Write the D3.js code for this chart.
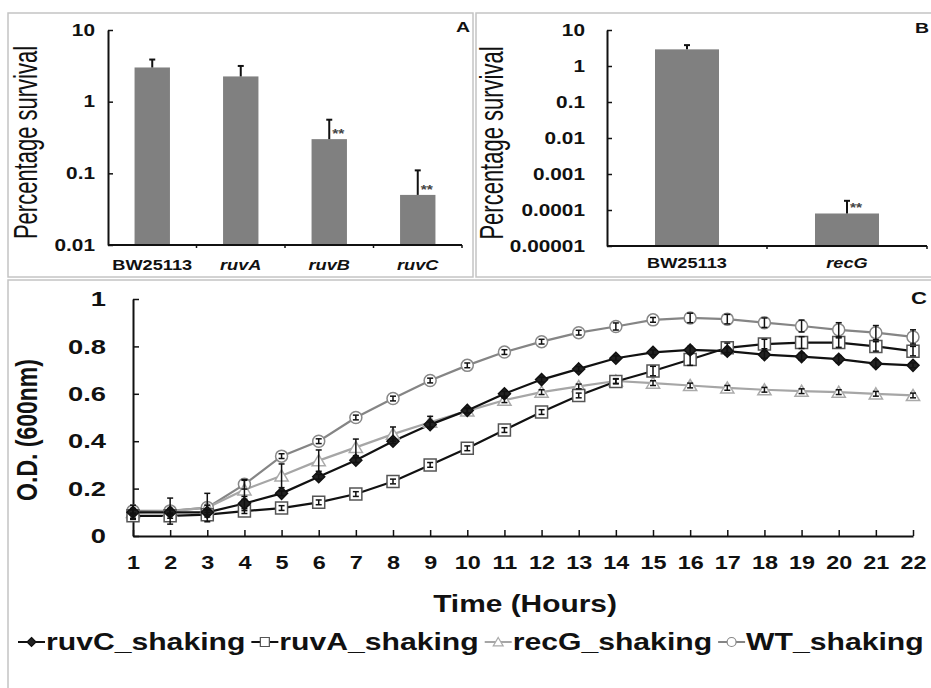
<!DOCTYPE html>
<html>
<head>
<meta charset="utf-8">
<script src="https://cdn.jsdelivr.net/npm/d3@7"></script>
<style>
  body { margin: 0; background: #fff; }
  svg { display: block; font-family: "Liberation Sans", Arial, sans-serif; }
</style>
</head>
<body>
<script>
// panel A: survival of ruv mutants (log scale)
let catsA = ["BW25113", "ruvA", "ruvB", "ruvC"];
let survA = [3.0, 2.25, 0.30, 0.05];
let errA = [0.87, 0.9, 0.26, 0.06];
let sigA = ["", "", "**", "**"];
let ticksA = [0.01, 0.1, 1, 10];
let tickLabelsA = ["0.01", "0.1", "1", "10"];

// panel B: survival of recG
let catsB = ["BW25113", "recG"];
let survB = [2.9, 0.00008];
let errB = [0.9, 0.0001];
let sigB = ["", "**"];
let ticksB = [0.00001, 0.0001, 0.001, 0.01, 0.1, 1, 10];
let tickLabelsB = ["0.00001", "0.0001", "0.001", "0.01", "0.1", "1", "10"];

// panel C: growth curves
let hours = [1, 2, 3, 4, 5, 6, 7, 8, 9, 10, 11, 12, 13, 14, 15, 16, 17, 18, 19, 20, 21, 22];
let ruvC = [0.10, 0.10, 0.10, 0.137, 0.18, 0.25, 0.32, 0.40, 0.47, 0.53, 0.60, 0.66, 0.705, 0.75, 0.775, 0.785, 0.78, 0.765, 0.757, 0.746, 0.727, 0.72];
let ruvA = [0.085, 0.085, 0.09, 0.105, 0.118, 0.142, 0.177, 0.23, 0.30, 0.37, 0.447, 0.523, 0.593, 0.652, 0.696, 0.745, 0.794, 0.81, 0.816, 0.816, 0.80, 0.78];
let recG = [0.10, 0.105, 0.12, 0.195, 0.254, 0.318, 0.374, 0.43, 0.48, 0.528, 0.573, 0.607, 0.631, 0.654, 0.645, 0.635, 0.625, 0.617, 0.611, 0.607, 0.60, 0.593];
let WT = [0.106, 0.106, 0.12, 0.218, 0.337, 0.40, 0.50, 0.58, 0.656, 0.72, 0.776, 0.82, 0.858, 0.884, 0.912, 0.92, 0.915, 0.90, 0.886, 0.87, 0.858, 0.84];
let ruvCErr = [0.01, 0.01, 0.01, 0.03, 0.01, 0.01, 0.01, 0.01, 0.01, 0.01, 0.01, 0.01, 0.01, 0.01, 0.01, 0.015, 0.015, 0.015, 0.015, 0.015, 0.015, 0.01];
let ruvAErr = [0.01, 0.01, 0.01, 0.01, 0.01, 0.01, 0.01, 0.01, 0.01, 0.01, 0.01, 0.01, 0.01, 0.01, 0.02, 0.025, 0.02, 0.02, 0.025, 0.02, 0.02, 0.02];
let recGErr = [0.03, 0.055, 0.06, 0.04, 0.05, 0.045, 0.035, 0.03, 0.025, 0.01, 0.01, 0.01, 0.01, 0.01, 0.01, 0.01, 0.01, 0.01, 0.01, 0.01, 0.01, 0.01];
let WTErr = [0.01, 0.01, 0.01, 0.02, 0.01, 0.01, 0.01, 0.01, 0.01, 0.01, 0.01, 0.01, 0.01, 0.015, 0.01, 0.02, 0.02, 0.02, 0.025, 0.03, 0.03, 0.03];
let seriesNames = ["ruvC_shaking", "ruvA_shaking", "recG_shaking", "WT_shaking"];
let odTicks = [0, 0.2, 0.4, 0.6, 0.8, 1];

let w = 931;
let h = 688;
let SX = 1.3; // the figure is stretched sideways, so is its text

let svg = d3.select("body")
    .append("svg")
    .attr("width", w)
    .attr("height", h);

// text placed in a stretched group
function label(x, y, str, size, opts) {
    opts = opts || {};
    let sx = opts.sx || SX;
    let g = svg.append("g")
        .attr("transform", `translate(${x},${y}) scale(${sx},1)` + (opts.rotate ? " rotate(-90)" : ""));
    return g.append("text")
        .attr("text-anchor", opts.anchor || "middle")
        .attr("font-size", size)
        .attr("font-weight", opts.weight || "bold")
        .attr("font-style", opts.italic ? "italic" : "normal")
        .attr("fill", opts.fill || "#111")
        .text(str);
}

// panel frames
svg.append("rect").attr("x", 8).attr("y", 13).attr("width", 465).attr("height", 264)
    .attr("fill", "none").attr("stroke", "#c4c4c4").attr("stroke-width", 1.5);
svg.append("rect").attr("x", 476).attr("y", 13).attr("width", 470).attr("height", 264)
    .attr("fill", "none").attr("stroke", "#c4c4c4").attr("stroke-width", 1.5);
svg.append("rect").attr("x", 8).attr("y", 280).attr("width", 940).attr("height", 420)
    .attr("fill", "none").attr("stroke", "#c4c4c4").attr("stroke-width", 1.5);

// survival bar panel
function barPanel(cats, vals, errs, sigs, ticks, tickLabels, cfg) {
    let x = d3.scaleBand().domain(cats).range([cfg.x0, cfg.x1]).paddingInner(0.6).paddingOuter(0.3);
    let y = d3.scaleLog().domain(cfg.domain).range([cfg.y0, cfg.y1]);
    let g = svg.append("g");

    g.selectAll("rect.bar")
        .data(cats)
        .enter()
        .append("rect")
        .attr("class", "bar")
        .attr("x", d => x(d))
        .attr("y", (d, i) => y(vals[i]))
        .attr("width", x.bandwidth())
        .attr("height", (d, i) => y(cfg.domain[0]) - y(vals[i]))
        .attr("fill", "#808080");

    // error bars, upper arm only
    let eb = g.selectAll("g.err")
        .data(cats)
        .enter()
        .append("g")
        .attr("class", "err");
    eb.append("line")
        .attr("x1", d => x(d) + x.bandwidth() / 2)
        .attr("x2", d => x(d) + x.bandwidth() / 2)
        .attr("y1", (d, i) => y(vals[i]))
        .attr("y2", (d, i) => y(vals[i] + errs[i]))
        .attr("stroke", "#111").attr("stroke-width", 2);
    eb.append("line")
        .attr("x1", d => x(d) + x.bandwidth() / 2 - 3)
        .attr("x2", d => x(d) + x.bandwidth() / 2 + 3)
        .attr("y1", (d, i) => y(vals[i] + errs[i]))
        .attr("y2", (d, i) => y(vals[i] + errs[i]))
        .attr("stroke", "#111").attr("stroke-width", 2);

    cats.forEach((c, i) => {
        if (sigs[i]) {
            label(x(c) + x.bandwidth() / 2 + 3, y(vals[i]) - 1, sigs[i], 12, { anchor: "start", fill: "#444" });
        }
    });

    // axes
    let ya = g.append("g")
        .attr("transform", `translate(${cfg.x0},0)`)
        .call(d3.axisLeft(y).tickValues(ticks).tickFormat((d, i) => tickLabels[i])
            .tickSizeInner(-5).tickSizeOuter(0).tickPadding(0));
    ya.select(".domain").attr("stroke", "#111").attr("stroke-width", 2);
    ya.selectAll(".tick line").attr("stroke", "#111").attr("stroke-width", 1.5);
    ya.selectAll("text")
        .attr("x", -cfg.tickPad / SX)
        .attr("transform", `scale(${SX},1)`)
        .attr("font-size", 16).attr("font-weight", "bold").attr("fill", "#111")
        .attr("font-family", "Liberation Sans, Arial, sans-serif");

    let xa = g.append("g")
        .attr("transform", `translate(0,${cfg.y0})`);
    xa.append("line").attr("x1", cfg.x0).attr("x2", cfg.x1).attr("stroke", "#111").attr("stroke-width", 2);
    xa.selectAll("line.tk")
        .data(cats.map((c, k) => k + 1))
        .enter()
        .append("line")
        .attr("class", "tk")
        .attr("x1", k => cfg.x0 + (cfg.x1 - cfg.x0) * k / cats.length)
        .attr("x2", k => cfg.x0 + (cfg.x1 - cfg.x0) * k / cats.length)
        .attr("y1", 0).attr("y2", 3)
        .attr("stroke", "#111").attr("stroke-width", 1.5);
    cats.forEach((c, i) => {
        label(x(c) + x.bandwidth() / 2, cfg.y0 + cfg.labelPad, c, 14, { italic: c !== "BW25113" });
    });

    label(cfg.ylabX, (cfg.y0 + cfg.y1) / 2 + 5, "Percentage survival", 22, { rotate: true, weight: "normal", sx: 1.5 });
}

barPanel(catsA, survA, errA, sigA, ticksA, tickLabelsA,
    { x0: 108, x1: 462, y0: 245, y1: 30, domain: [0.01, 10], tickPad: 13, labelPad: 25, ylabX: 37 });
barPanel(catsB, survB, errB, sigB, ticksB, tickLabelsB,
    { x0: 607, x1: 927, y0: 246, y1: 30, domain: [0.00001, 10], tickPad: 22, labelPad: 22, ylabX: 503 });

label(470, 32, "A", 15, { anchor: "end" });
label(929, 33, "B", 15, { anchor: "end" });

// growth curve panel
let xC = d3.scaleLinear().domain([1, 22]).range([133, 913]);
let yC = d3.scaleLinear().domain([0, 1]).range([536, 299]);

let gC = svg.append("g");
let yaC = gC.append("g")
    .attr("transform", "translate(133,0)")
    .call(d3.axisLeft(yC).tickValues(odTicks).tickFormat(d3.format("~g"))
        .tickSizeInner(-6).tickSizeOuter(0).tickPadding(0));
yaC.select(".domain").attr("stroke", "#111").attr("stroke-width", 2);
yaC.selectAll(".tick line").attr("stroke", "#111").attr("stroke-width", 1.5);
yaC.selectAll("text")
    .attr("x", -27 / SX)
    .attr("transform", `scale(${SX},1)`)
    .attr("font-size", 21).attr("font-weight", "bold").attr("fill", "#111")
    .attr("font-family", "Liberation Sans, Arial, sans-serif");

let xaC = gC.append("g")
    .attr("transform", "translate(0,536)")
    .call(d3.axisBottom(xC).tickValues(hours).tickFormat(d3.format("d"))
        .tickSizeInner(-6).tickSizeOuter(0).tickPadding(20));
xaC.select(".domain").attr("stroke", "#111").attr("stroke-width", 2);
xaC.selectAll(".tick line").attr("stroke", "#111").attr("stroke-width", 1.5);
xaC.selectAll("text")
    .attr("transform", `scale(${SX},1)`)
    .attr("font-size", 18).attr("font-weight", "bold").attr("fill", "#111")
    .attr("font-family", "Liberation Sans, Arial, sans-serif");

label(37, 430, "O.D. (600nm)", 23, { rotate: true });
label(525, 612, "Time (Hours)", 23);
label(927, 304, "C", 17, { anchor: "end" });

let styles = [
    { vals: ruvC, err: ruvCErr, line: "#111", mark: "diamond", stroke: "#111", fill: "#222" },
    { vals: ruvA, err: ruvAErr, line: "#111", mark: "square", stroke: "#555", fill: "#fff" },
    { vals: recG, err: recGErr, line: "#a6a6a6", mark: "triangle", stroke: "#aaa", fill: "#fff" },
    { vals: WT, err: WTErr, line: "#858585", mark: "circle", stroke: "#888", fill: "#fff" }
];

function markPath(kind, s) {
    if (kind === "diamond") return `M0,${-s}L${s},0L0,${s}L${-s},0Z`;
    if (kind === "square") return `M${-s},${-s}H${s}V${s}H${-s}Z`;
    if (kind === "triangle") return `M0,${-s}L${s * 1.1},${s * 0.85}L${-s * 1.1},${s * 0.85}Z`;
    return `M${-s},0A${s},${s} 0 1,0 ${s},0A${s},${s} 0 1,0 ${-s},0Z`;
}

let line = d3.line().x((d, i) => xC(hours[i])).y(d => yC(d));
let drawOrder = [3, 2, 1, 0];

drawOrder.forEach(k => {
    let st = styles[k];
    gC.append("path")
        .datum(st.vals)
        .attr("d", line)
        .attr("fill", "none")
        .attr("stroke", st.line)
        .attr("stroke-width", 2.2);
});
drawOrder.forEach(k => {
    let st = styles[k];
    gC.selectAll(null)
        .data(st.vals)
        .enter()
        .append("path")
        .attr("transform", (d, i) => `translate(${xC(hours[i])},${yC(d)})`)
        .attr("d", markPath(st.mark, 6))
        .attr("fill", st.fill)
        .attr("stroke", st.stroke)
        .attr("stroke-width", 1.5);
});
drawOrder.forEach(k => {
    let st = styles[k];
    let e = gC.selectAll(null)
        .data(st.vals)
        .enter()
        .append("g")
        .attr("transform", (d, i) => `translate(${xC(hours[i])},0)`);
    e.append("line")
        .attr("y1", (d, i) => yC(d - st.err[i]))
        .attr("y2", (d, i) => yC(d + st.err[i]))
        .attr("stroke", "#111").attr("stroke-width", 1.5);
    e.append("line")
        .attr("x1", -3).attr("x2", 3)
        .attr("y1", (d, i) => yC(d + st.err[i]))
        .attr("y2", (d, i) => yC(d + st.err[i]))
        .attr("stroke", "#111").attr("stroke-width", 1.5);
    e.append("line")
        .attr("x1", -3).attr("x2", 3)
        .attr("y1", (d, i) => yC(d - st.err[i]))
        .attr("y2", (d, i) => yC(d - st.err[i]))
        .attr("stroke", "#111").attr("stroke-width", 1.5);
});

// legend
let lx = 18;
let ly = 642;
styles.forEach((st, k) => {
    svg.append("line")
        .attr("x1", lx).attr("x2", lx + 27)
        .attr("y1", ly).attr("y2", ly)
        .attr("stroke", st.line).attr("stroke-width", 2);
    svg.append("path")
        .attr("transform", `translate(${lx + 13.5},${ly})`)
        .attr("d", markPath(st.mark, 4.5))
        .attr("fill", st.fill)
        .attr("stroke", st.stroke)
        .attr("stroke-width", 1.2);
    let t = label(lx + 28, ly + 8, seriesNames[k], 23.2, { anchor: "start" });
    lx += 28 + t.node().getComputedTextLength() * SX + 6;
});
</script>
</body>
</html>
